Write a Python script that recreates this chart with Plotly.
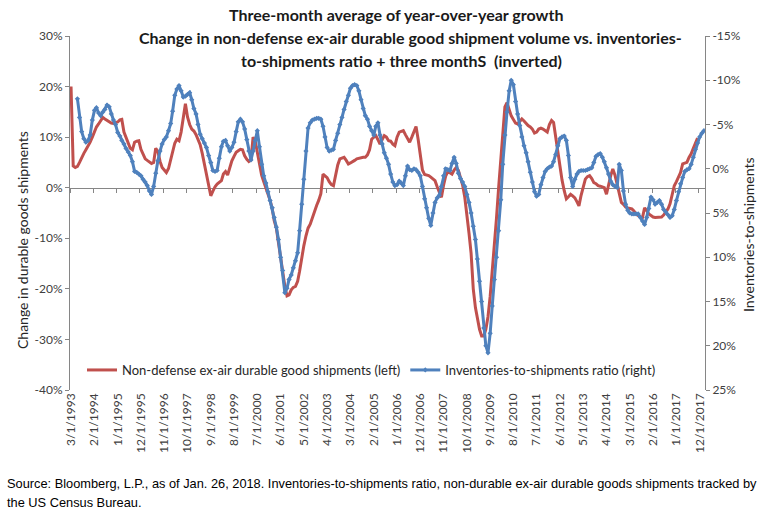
import plotly.graph_objects as go
import pandas as pd

# ---------------- data ----------------
# Non-defense ex-air durable good shipments, 3-mo avg YoY %, monthly from 3/1993 (left axis)
ship = [
    20.0, 4.3, 4.0, 4.2, 5.0, 6.0, 6.8, 7.5, 8.2, 9.0,
    10.0, 11.2, 12.0, 12.6, 13.3, 13.9, 13.6, 13.3, 13.0, 12.8,
    12.7, 12.8, 13.0, 13.4, 13.5, 11.0, 10.0, 9.0, 7.8, 7.5,
    9.0, 9.2, 9.3, 7.6, 6.5, 5.7, 5.4, 5.0, 4.8, 5.0,
    7.8, 7.2, 5.2, 4.0, 3.5, 3.0, 3.8, 5.5, 7.5, 8.8,
    9.6, 9.3, 11.0, 14.0, 16.6, 14.0, 12.5, 11.6, 11.2, 10.5,
    9.5, 8.5, 6.8, 4.5, 2.8, 0.0, -1.6, -0.7, 0.2, 0.7,
    1.0, 1.4, 2.7, 3.2, 2.5, 4.0, 5.3, 6.2, 7.0, 7.3,
    7.6, 7.5, 6.3, 5.6, 5.2, 5.5, 10.0, 9.2, 7.0, 4.5,
    2.5, 1.2, 0.0, -1.2, -2.5, -4.2, -6.5, -8.0, -11.0, -14.5,
    -17.0, -19.5, -21.4, -21.2, -20.2, -19.7, -19.5, -18.5, -16.5, -13.5,
    -11.5, -9.5, -8.0, -7.2, -5.8, -4.5, -3.5, -2.5, -1.2, 2.7,
    2.4, 2.0, 1.2, 0.6, 0.4, 2.5, 4.5, 5.7, 5.8, 6.0,
    5.4, 4.7, 4.9, 5.1, 5.4, 5.7, 5.8, 6.0, 6.0, 6.0,
    6.5, 7.5, 9.6, 10.0, 10.3, 9.5, 8.6, 9.5, 10.3, 10.0,
    9.3, 9.2, 8.6, 8.3, 10.0, 11.0, 11.1, 11.3, 10.5, 9.8,
    9.0, 10.0, 11.2, 12.1, 9.5, 6.7, 3.5, 2.6, 2.5, 2.4,
    2.1, 1.8, 1.4, 0.2, -1.0, -1.9, 0.5, 2.3, 3.2, 3.0,
    2.7, 3.5, 4.0, 3.4, 2.0, 0.5, -1.9, -5.0, -9.0, -13.0,
    -20.0, -23.7, -26.0, -28.0, -29.3, -29.3, -28.0, -25.5, -21.5, -16.5,
    -12.0, -6.0, 0.0, 6.0, 11.0, 16.0, 16.8, 15.2, 14.2, 13.5,
    12.8, 12.6, 13.2, 13.6, 13.2, 12.6, 12.3, 12.0, 11.6, 10.8,
    11.0, 11.6, 11.8, 11.6, 11.3, 11.0, 12.5, 13.3, 12.9, 10.0,
    7.5, 4.0, 1.5, -0.6, -2.2, -1.8, -1.3, -1.6, -2.0, -2.8,
    -3.6, -1.5, 0.0, 1.7, 2.2, 2.4, 1.8, 1.0, 0.8, 0.4,
    0.3, 0.1, 0.0, -1.3, 0.8, 2.4, 3.7, 2.5, 0.7, -1.0,
    -2.9, -3.3, -3.8, -4.0, -4.1, -4.2, -4.6, -5.2, -5.5, -5.8,
    -5.9, -4.0, -4.5, -5.2, -5.5, -5.8, -5.9, -5.9, -5.9, -5.8,
    -5.4, -4.9, -4.2, -3.2, -1.0, 0.4, 1.2, 2.0, 3.0, 4.7,
    4.9, 5.0, 6.0, 6.7, 7.8, 9.0, 9.8,
]

# Inventories-to-shipments ratio, 3-mo avg YoY %, shifted +3 months, monthly from 6/1993 (right axis, inverted)
inv = [
    -7.9, -5.8, -4.2, -3.4, -3.0, -3.2, -3.8,
    -5.5, -6.6, -6.9, -6.3, -6.0, -6.4, -6.7, -7.2, -7.0, -6.2,
    -5.5, -5.0, -4.1, -3.7, -3.2, -2.8, -2.3, -1.9, -1.5, -0.8,
    0.3, 0.4, 0.6, 0.8, 1.2, 1.5, 1.9, 2.5, 2.9, 2.0,
    0.5, -0.9, -2.0, -2.8, -3.3, -3.6, -4.3, -5.1, -6.5, -8.3,
    -9.0, -9.4, -8.8, -8.1, -8.2, -8.4, -8.6, -7.8, -6.8, -6.2,
    -5.0, -3.9, -3.4, -2.9, -2.4, -1.5, -0.7, 0.2, 0.3, 0.2,
    -1.2, -2.5, -3.1, -3.2, -2.6, -2.0, -2.4, -3.0, -4.2, -5.3,
    -5.6, -5.3, -4.5, -3.3, -2.0, -1.0, -2.0, -3.2, -4.3, -2.5,
    -0.5, 0.8, 1.6, 2.6, 3.6, 4.4, 5.5, 6.6, 8.0, 10.0,
    11.5, 14.0, 13.5, 12.5, 12.0, 11.2, 10.4, 9.5, 7.0, 4.0,
    1.2, -2.0, -4.6, -5.2, -5.5, -5.6, -5.7, -5.7, -5.6, -4.8,
    -3.6, -2.4, -2.0, -2.1, -2.2, -3.2, -4.0, -5.0, -5.8, -6.7,
    -7.6, -8.3, -9.1, -9.4, -9.5, -9.4, -8.8, -7.8, -6.8, -6.0,
    -5.6, -4.8, -4.3, -3.8, -4.8, -5.2, -3.8, -2.8, -1.8, -1.2,
    -0.5, 0.6, 1.5, 1.9, 1.8, 1.4, 1.6, 1.9, 0.8, -0.3,
    0.1, 0.2, 0.0, 0.1, 0.4, 0.8, 2.0, 3.4, 4.4, 5.6,
    6.4, 5.0, 3.8, 3.3, 3.0, 2.0, 0.8, 0.0, 0.1, 0.2,
    -0.6, -1.3, -0.6, 0.5, 1.1, 1.5, 2.0, 2.9, 3.8, 5.0,
    6.5, 8.0, 10.2, 12.7, 15.0, 18.0, 20.0, 20.8, 18.6, 15.5,
    12.5, 10.0, 7.0, 3.5, -0.5, -3.8, -6.4, -8.8, -10.0, -9.5,
    -7.6, -6.2, -4.9, -3.6, -2.6, -1.8, -0.8, 0.4, 1.5, 2.6,
    3.1, 2.9, 1.8, 1.0, 0.3, 0.0, -0.2, -0.3, -0.8, -1.6,
    -2.6, -3.4, -3.6, -3.7, -3.2, -1.5, 1.0, 2.0, 1.2, 0.6,
    0.3, 0.2, 0.2, 0.2, 0.1, 0.0, -0.1, -0.7, -1.4, -1.6,
    -1.7, -1.3, -0.8, -0.1, 0.6, 1.4, 1.8, 2.0, 2.1, -0.5,
    0.2, 2.5, 4.0, 4.7, 5.0, 5.1, 5.1, 5.1, 5.1, 5.5,
    5.9, 6.3, 5.5, 4.5, 3.2, 3.5, 4.0, 3.8, 3.6, 4.0,
    4.6, 4.9, 5.2, 5.5, 5.3, 4.6, 3.6, 2.6, 1.7, 1.0,
    0.3, 0.1, 0.0, -0.5, -1.3, -2.2, -2.9, -3.6, -4.0, -4.3,
]

tick_labels = [
    "3/1/1993", "2/1/1994", "1/1/1995", "12/1/1995", "11/1/1996", "10/1/1997",
    "9/1/1998", "8/1/1999", "7/1/2000", "6/1/2001", "5/1/2002", "4/1/2003",
    "3/1/2004", "2/1/2005", "1/1/2006", "12/1/2006", "11/1/2007", "10/1/2008",
    "9/1/2009", "8/1/2010", "7/1/2011", "6/1/2012", "5/1/2013", "4/1/2014",
    "3/1/2015", "2/1/2016", "1/1/2017", "12/1/2017",
]
left_ticks = [-40, -30, -20, -10, 0, 10, 20, 30]
right_ticks = [-15, -10, -5, 0, 5, 10, 15, 20, 25]

ship_name = "Non-defense ex-air durable good shipments (left)"
inv_name = "Inventories-to-shipments ratio (right)"

# ---------------- derived ----------------
months = pd.date_range("1993-03-01", periods=300, freq="MS")
ship_x = months[:len(ship)]
inv_x = months[3:3 + len(inv)]
half = pd.Timedelta(days=15)
tick_dates = pd.to_datetime(tick_labels, format="%m/%d/%Y")
tick_marks = [d - half for d in tick_dates]
x_range = [months[0] - half, months[-1] + half]

W, H = 766, 513
L, R, T, B = 70, 705, 36, 390


def px(x):
    return (x - L) / (R - L)


def py(y):
    return (B - y) / (B - T)


FONT = "Lato, Carlito, Calibri, sans-serif"
RED = "#C0504D"
BLUE = "#4F81BD"
AX = "#868686"
TXT = "#404040"

fig = go.Figure()
fig.add_trace(go.Scatter(
    x=ship_x, y=ship, mode="lines", name=ship_name,
    line=dict(color=RED, width=3), xaxis="x", yaxis="y",
))
fig.add_trace(go.Scatter(
    x=inv_x, y=inv, mode="lines+markers", name=inv_name,
    line=dict(color=BLUE, width=3),
    marker=dict(symbol="diamond", size=4, color=BLUE),
    xaxis="x", yaxis="y2",
))
# empty trace so the zero-line category axis is drawn
fig.add_trace(go.Scatter(x=[], y=[], xaxis="x2", yaxis="y", showlegend=False))

fig.update_layout(
    width=W, height=H,
    margin=dict(l=L, r=W - R, t=T, b=H - B),
    paper_bgcolor="white", plot_bgcolor="white",
    font=dict(family=FONT, size=12, color=TXT),
    showlegend=True,
    legend=dict(
        orientation="h", x=px(82), y=py(370), xanchor="left", yanchor="middle",
        font=dict(family=FONT, size=13, color="#262626"),
        bgcolor="rgba(0,0,0,0)", itemwidth=30, tracegroupgap=0,
    ),
    xaxis=dict(
        type="date", range=x_range, tickvals=list(tick_dates), ticktext=tick_labels,
        tickangle=-90, ticks="", showline=False, showgrid=False, zeroline=False,
        tickfont=dict(family=FONT, size=12, color=TXT), anchor="y",
    ),
    xaxis2=dict(
        type="date", range=x_range, overlaying="x", anchor="free",
        position=40 / 70, tickvals=tick_marks, showticklabels=False,
        ticks="outside", ticklen=4, tickcolor=AX, showline=True, linecolor=AX,
        linewidth=1, showgrid=False, zeroline=False, layer="below traces",
    ),
    yaxis=dict(
        range=[-40, 30], tickvals=left_ticks,
        ticktext=[f"{v}%" for v in left_ticks],
        showline=True, linecolor=AX, ticks="outside", ticklen=4, tickcolor=AX,
        showgrid=False, zeroline=False,
        tickfont=dict(family=FONT, size=12, color=TXT),
    ),
    yaxis2=dict(
        range=[25, -15], overlaying="y", side="right", anchor="x",
        tickvals=right_ticks, ticktext=[f"{v}%" for v in right_ticks],
        showline=True, linecolor=AX, ticks="outside", ticklen=4, tickcolor=AX,
        showgrid=False, zeroline=False,
        tickfont=dict(family=FONT, size=12, color=TXT),
    ),
)

title_font = dict(family=FONT, size=16, color="#1a1a1a")
titles = [
    ("<b>Three-month average of year-over-year growth</b>", 396, 15),
    ("<b>Change in non-defense ex-air durable good shipment volume vs. inventories-</b>", 410, 38),
    ("<b>to-shipments ratio + three monthS\u00a0 (inverted)</b>", 401, 60),
]
for text, cx, cy in titles:
    fig.add_annotation(text=text, xref="paper", yref="paper", x=px(cx), y=py(cy),
                       xanchor="center", yanchor="middle", showarrow=False,
                       font=title_font)

fig.add_annotation(text="Change in durable goods shipments", xref="paper", yref="paper",
                   x=px(22), y=py(240), textangle=-90, showarrow=False,
                   xanchor="center", yanchor="middle",
                   font=dict(family=FONT, size=14, color="#262626"))
fig.add_annotation(text="Inventories-to-shipments", xref="paper", yref="paper",
                   x=px(748), y=py(235), textangle=-90, showarrow=False,
                   xanchor="center", yanchor="middle",
                   font=dict(family=FONT, size=14, color="#262626"))

src_font = dict(family="Liberation Sans, Arial, sans-serif", size=12.8, color="black")
fig.add_annotation(
    text="Source: Bloomberg, L.P., as of Jan. 26, 2018. Inventories-to-shipments ratio, non-durable ex-air durable goods shipments tracked by",
    xref="paper", yref="paper", x=px(5), y=py(483), xanchor="left", yanchor="middle",
    showarrow=False, font=src_font)
fig.add_annotation(
    text="the US Census Bureau.",
    xref="paper", yref="paper", x=px(5), y=py(502), xanchor="left", yanchor="middle",
    showarrow=False, font=src_font)

fig.write_html(
    "out.html",
    config={"displayModeBar": False},
    post_script="document.body.style.margin='0';document.body.style.overflow='hidden';",
)
